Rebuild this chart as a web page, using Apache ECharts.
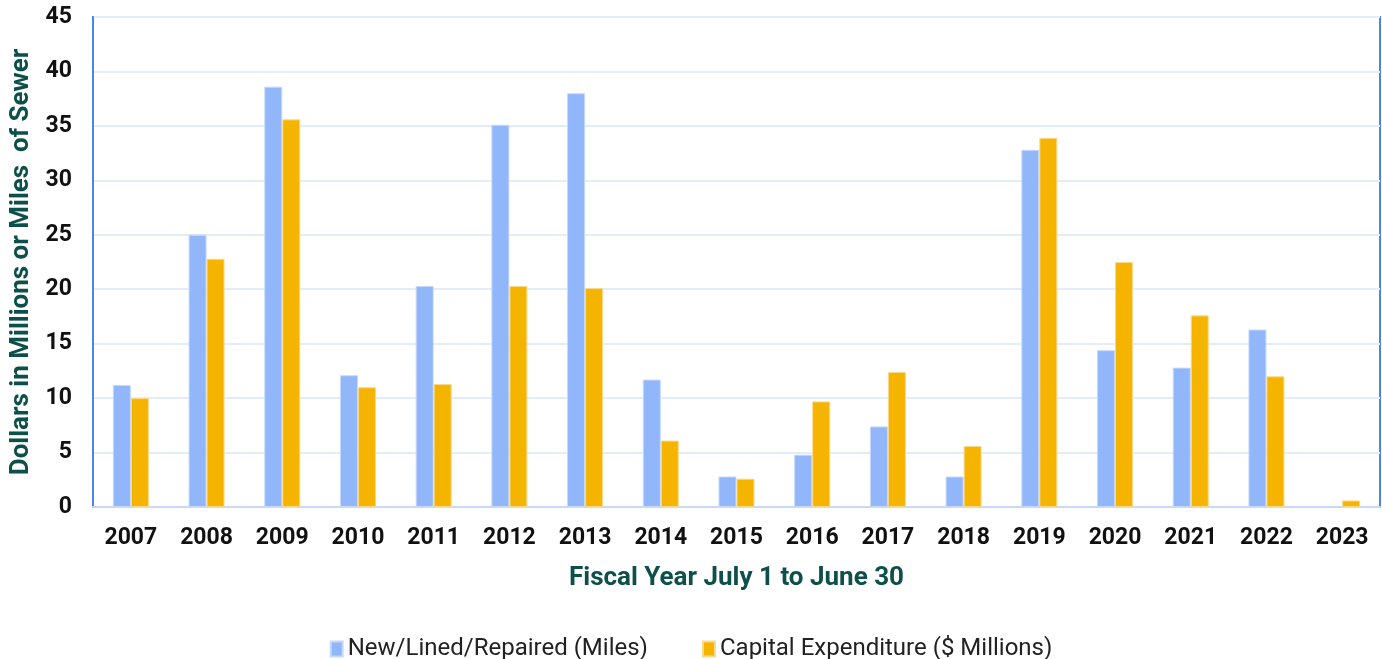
<!DOCTYPE html>
<html><head><meta charset="utf-8">
<script src="https://cdn.jsdelivr.net/npm/echarts@6/dist/echarts.min.js"></script>
<style>html,body{margin:0;padding:0;background:#fff}#c{width:1382px;height:659px}</style>
</head><body><div id="c"></div>
<script>
const categories = ['2007','2008','2009','2010','2011','2012','2013','2014','2015','2016','2017','2018','2019','2020','2021','2022','2023'];
const miles = [11.2, 25.0, 38.6, 12.1, 20.3, 35.1, 38.0, 11.7, 2.8, 4.8, 7.4, 2.8, 32.8, 14.4, 12.8, 16.3, 0];
const capex = [10.0, 22.8, 35.6, 11.0, 11.3, 20.3, 20.1, 6.1, 2.6, 9.7, 12.4, 5.6, 33.9, 22.5, 17.6, 12.0, 0.6];
const seriesNames = ['New/Lined/Repaired (Miles)', 'Capital Expenditure ($ Millions)'];
const chart = echarts.init(document.getElementById('c'));
chart.setOption({
  animation: false,
  grid: {left: 93, right: 2, top: 17, bottom: 152, show: true, borderColor: '#4a86e8', borderWidth: 2,
    backgroundColor: 'transparent', containLabel: false, outerBoundsMode: 'none'},
  legend: {top: 632, left: 'center', itemWidth: 12, itemHeight: 15, itemGap: 54,
    textStyle: {fontFamily: 'Roboto', fontSize: 24, color: '#222'}, icon: 'rect', data: seriesNames},
  xAxis: {type: 'category', data: categories,
    axisLine: {lineStyle: {color: '#c9daf8', width: 2}}, axisTick: {show: false},
    axisLabel: {fontFamily: 'Roboto', fontWeight: 'bold', fontSize: 23, color: '#111', margin: 20},
    name: 'Fiscal Year July 1 to June 30', nameLocation: 'middle', nameGap: 58,
    nameTextStyle: {fontFamily: 'Roboto', fontWeight: 'bold', fontSize: 26, color: '#0d4f4a'}},
  yAxis: {type: 'value', min: 0, max: 45, interval: 5,
    axisLine: {show: true, lineStyle: {color: '#4a86e8', width: 2}},
    splitLine: {lineStyle: {color: '#e3ecfb', width: 2}},
    axisLabel: {fontFamily: 'Roboto', fontWeight: 'bold', fontSize: 23, color: '#111', margin: 21},
    name: 'Dollars in Millions or Miles  of Sewer', nameLocation: 'middle', nameGap: 58,
    nameTextStyle: {fontFamily: 'Roboto', fontWeight: 'bold', fontSize: 26, color: '#0d4f4a'}},
  series: [
    {name: seriesNames[0], type: 'bar', data: miles, barWidth: 18, barGap: '0%',
      itemStyle: {color: '#91b6f9', borderColor: '#c6d9fb', borderWidth: 1}},
    {name: seriesNames[1], type: 'bar', data: capex, barWidth: 18,
      itemStyle: {color: '#f4b400', borderColor: '#fbd98a', borderWidth: 1}}
  ]
});
</script></body></html>
